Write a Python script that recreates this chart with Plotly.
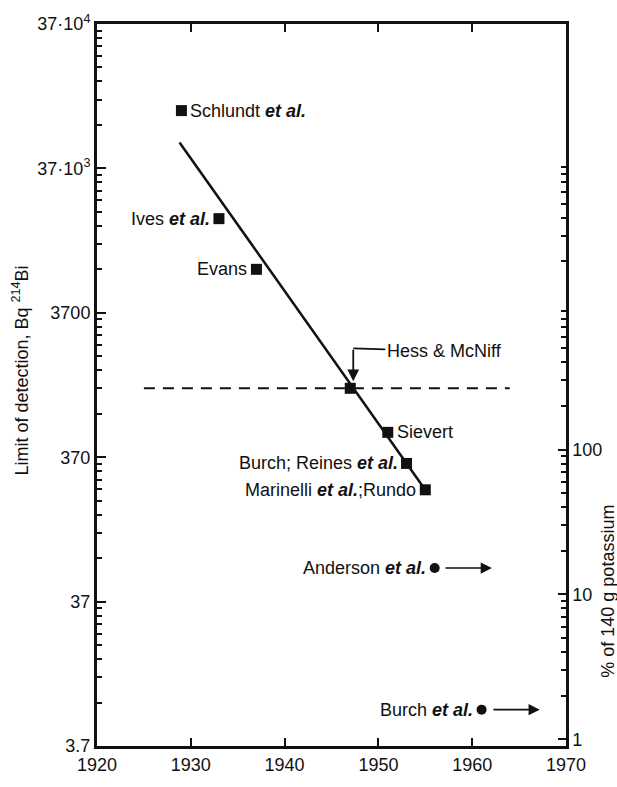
import numpy as np
import plotly.graph_objects as go

# Detection limits of whole-body counters over time (Bq of 214Bi)
years = [1929, 1933, 1937, 1947, 1951, 1953, 1955]
limits = [93000, 16600, 7400, 1110, 550, 335, 220]
labels = [
    "Schlundt <b><i>et al.</i></b>",
    "Ives <b><i>et al.</i></b>",
    "Evans",
    "Hess & McNiff",
    "Sievert",
    "Burch; Reines <b><i>et al.</i></b>",
    "Marinelli <b><i>et al.</i></b>;Rundo",
]
label_side = ["right", "left", "left", "none", "right", "left", "left"]

# Fitted trend
trend_years = [1928.8, 1955.1]
trend_limits = [56000, 215]

# Reference level (dashed)
ref_years = [1925, 1964]
ref_limit = [1110, 1110]

# Potassium-based counters (% of 140 g potassium)
k_years = [1956, 1961]
k_percent = [15.2, 1.6]
k_labels = ["Anderson <b><i>et al.</i></b>", "Burch <b><i>et al.</i></b>"]
k_arrow_start = [1957, 1962.1]
k_arrow_end = [1962.1, 1967.2]

left_ticks = [3.7, 37, 370, 3700, 37000, 370000]
left_ticktext = ["3.7", "37", "370", "3700", "37·10<sup>3</sup>", "37·10<sup>4</sup>"]
left_minor = [3.7 * k * 10 ** n for n in range(5) for k in range(2, 10)]
right_ticks = [1, 10, 100]
right_ticktext = ["1", "10", "100"]
right_minor = [k * 10 ** n for n in range(4) for k in range(2, 10)]

INK = "#111111"
FONT = "Liberation Sans, Arial, Helvetica, sans-serif"

fig = go.Figure()

fig.add_trace(go.Scatter(
    x=ref_years, y=ref_limit, mode="lines",
    line=dict(color=INK, width=2, dash="11px,8px"), showlegend=False))

fig.add_trace(go.Scatter(
    x=trend_years, y=trend_limits, mode="lines",
    line=dict(color=INK, width=2.5), showlegend=False))

fig.add_trace(go.Scatter(
    x=years, y=limits, mode="markers",
    marker=dict(symbol="square", size=11, color=INK), showlegend=False))

fig.add_trace(go.Scatter(
    x=k_years, y=k_percent, mode="markers", yaxis="y2",
    marker=dict(symbol="circle", size=10, color=INK), showlegend=False))

ann = []
lab_font = dict(family=FONT, size=18, color=INK)
for x, y, t, side in zip(years, limits, labels, label_side):
    if side == "right":
        ann.append(dict(x=x, y=np.log10(y), xref="x", yref="y", text=t,
                        showarrow=False, xanchor="left", xshift=7, font=lab_font))
    elif side == "left":
        ann.append(dict(x=x, y=np.log10(y), xref="x", yref="y", text=t,
                        showarrow=False, xanchor="right", xshift=-7, font=lab_font))

# Hess & McNiff elbow pointer
hx, hy = years[3], np.log10(limits[3])
ann.append(dict(x=hx, y=hy, xref="x", yref="y", text="", showarrow=True,
                ax=0, ay=-40, xshift=3, standoff=7, arrowhead=2, arrowsize=1.3,
                arrowwidth=1.8, arrowcolor=INK))
ann.append(dict(x=hx, y=hy, xref="x", yref="y", text="Hess & McNiff",
                showarrow=True, ax=91, ay=3, xshift=3, yshift=40, arrowhead=0,
                arrowwidth=1.8, arrowcolor=INK, font=lab_font))

for x, p, t, a0, a1 in zip(k_years, k_percent, k_labels, k_arrow_start, k_arrow_end):
    ann.append(dict(x=x, y=np.log10(p), xref="x", yref="y2", text=t,
                    showarrow=False, xanchor="right", xshift=-7, font=lab_font))
    ann.append(dict(x=a1, y=np.log10(p), xref="x", yref="y2", text="",
                    showarrow=True, axref="x", ayref="y2", ax=a0, ay=np.log10(p),
                    arrowhead=2, arrowsize=1.4, arrowwidth=1.6, arrowcolor=INK))

# Axis titles
ann.append(dict(xref="paper", yref="paper", x=-0.162, y=0.52,
                text="Limit of detection, Bq <sup>214</sup>Bi", textangle=-90,
                showarrow=False, xanchor="center", yanchor="middle",
                font=dict(family=FONT, size=18, color=INK)))
ann.append(dict(xref="paper", yref="paper", x=1.09, y=0.214,
                text="% of 140 g potassium", textangle=-90,
                showarrow=False, xanchor="center", yanchor="middle",
                font=dict(family=FONT, size=18, color=INK)))
fig.update_layout(annotations=ann)

tick_font = dict(family=FONT, size=18, color=INK)
fig.update_layout(
    width=617, height=787,
    margin=dict(l=97, r=51, t=17, b=32),
    paper_bgcolor="white", plot_bgcolor="white",
    font=dict(family=FONT, color=INK),
    xaxis=dict(range=[1920, 1970], tickvals=list(range(1920, 1971, 10)),
               ticks="inside", ticklen=8, tickwidth=2, tickcolor=INK,
               showline=True, linewidth=3, linecolor=INK, mirror="ticks",
               showgrid=False, zeroline=False, tickfont=tick_font),
    yaxis=dict(type="log", range=[np.log10(3.7), np.log10(370000)],
               tickvals=left_ticks, ticktext=left_ticktext,
               ticks="inside", ticklen=9, tickwidth=2, tickcolor=INK,
               minor=dict(tickvals=left_minor, ticks="inside", ticklen=5,
                          tickwidth=1.5, tickcolor=INK, showgrid=False),
               showline=True, linewidth=3, linecolor=INK,
               showgrid=False, zeroline=False, tickfont=tick_font),
    yaxis2=dict(type="log", overlaying="y", side="right",
                range=[-0.047, 4.939], tickvals=right_ticks, ticktext=right_ticktext,
                ticks="inside", ticklen=8, tickwidth=2, tickcolor=INK,
                minor=dict(tickvals=right_minor, ticks="inside", ticklen=5,
                           tickwidth=1.5, tickcolor=INK, showgrid=False),
                showline=True, linewidth=2.5, linecolor=INK,
                showgrid=False, zeroline=False, tickfont=tick_font),
)

fig.write_html("out.html")
